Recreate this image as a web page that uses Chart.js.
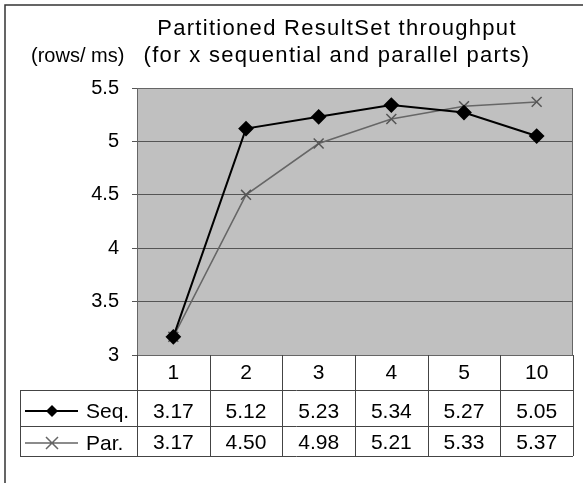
<!DOCTYPE html>
<html lang="en">
<head>
<meta charset="UTF-8">
<title>Partitioned ResultSet throughput</title>
<script src="https://cdn.jsdelivr.net/npm/chart.js"></script>
<style>
    html, body { margin: 0; padding: 0; background: #fff; }
    #wrap { width: 583px; height: 483px; }
</style>
</head>
<body>
<div id="wrap"><canvas id="grafico"></canvas></div>

<script>
    // dados
    var partes = ['1', '2', '3', '4', '5', '10'];
    var seq = [3.17, 5.12, 5.23, 5.34, 5.27, 5.05];
    var par = [3.17, 4.50, 4.98, 5.21, 5.33, 5.37];
    var seqTexto = ['3.17', '5.12', '5.23', '5.34', '5.27', '5.05'];
    var parTexto = ['3.17', '4.50', '4.98', '5.21', '5.33', '5.37'];
    var titulo = ['Partitioned ResultSet throughput', '(for x sequential and parallel parts)'];
    var unidade = '(rows/ ms)';

    var fonte = "'Liberation Sans', Arial, sans-serif";
    var corLinhaTabela = '#444';

    // fundo cinza, moldura, titulo e tabela de dados
    var moldura = {
        id: 'moldura',
        beforeDraw: function (chart) {
            var ctx = chart.ctx, a = chart.chartArea;
            ctx.save();
            ctx.fillStyle = '#c0c0c0';
            ctx.fillRect(a.left, a.top, a.right - a.left, a.bottom - a.top);
            // borda externa
            ctx.strokeStyle = '#333';
            ctx.lineWidth = 1.5;
            ctx.beginPath();
            ctx.moveTo(5, 483);
            ctx.lineTo(5, 5);
            ctx.lineTo(583, 5);
            ctx.stroke();
            // titulo
            ctx.fillStyle = '#000';
            ctx.textAlign = 'center';
            ctx.textBaseline = 'alphabetic';
            ctx.font = '22px ' + fonte;
            ctx.letterSpacing = '1.3px';
            ctx.fillText(titulo[0], 337, 35);
            ctx.fillText(titulo[1], 337, 62);
            ctx.letterSpacing = '0px';
            ctx.textAlign = 'left';
            ctx.font = '20px ' + fonte;
            ctx.fillText(unidade, 31, 62);
            ctx.restore();
        },
        afterDatasetsDraw: function (chart) {
            var ctx = chart.ctx, a = chart.chartArea, x = chart.scales.x;
            ctx.save();
            // borda da area do grafico
            ctx.strokeStyle = '#666';
            ctx.lineWidth = 1;
            ctx.strokeRect(a.left + 0.5, a.top + 0.5, a.right - a.left - 1, a.bottom - a.top);

            var y0 = a.bottom, y1 = 390, y2 = 426, y3 = 456, xl = 20;
            var larg = (a.right - a.left) / partes.length;

            ctx.strokeStyle = corLinhaTabela;
            ctx.lineWidth = 1;
            ctx.beginPath();
            // linhas horizontais
            ctx.moveTo(xl, y1 + 0.5); ctx.lineTo(a.right, y1 + 0.5);
            ctx.moveTo(xl, y2 + 0.5); ctx.lineTo(a.right, y2 + 0.5);
            ctx.moveTo(xl, y3 + 0.5); ctx.lineTo(a.right, y3 + 0.5);
            // linhas verticais
            ctx.moveTo(xl + 0.5, y1); ctx.lineTo(xl + 0.5, y3);
            for (var i = 0; i <= partes.length; i++) {
                var xv = Math.round(a.left + i * larg) + 0.5;
                ctx.moveTo(xv, y0); ctx.lineTo(xv, y3);
            }
            ctx.stroke();

            ctx.fillStyle = '#000';
            ctx.textAlign = 'center';
            ctx.font = '21px ' + fonte;
            for (var j = 0; j < partes.length; j++) {
                var cx = x.getPixelForValue(j);
                ctx.fillText(partes[j], cx, 379);
                ctx.fillText(seqTexto[j], cx, 418);
                ctx.fillText(parTexto[j], cx, 449);
            }

            // legenda dentro da tabela
            ctx.textAlign = 'left';
            ctx.fillText('Seq.', 86, 418);
            ctx.fillText('Par.', 86, 450);

            ctx.strokeStyle = '#000';
            ctx.lineWidth = 2;
            ctx.beginPath();
            ctx.moveTo(25, 411); ctx.lineTo(78, 411);
            ctx.stroke();
            ctx.fillStyle = '#000';
            ctx.beginPath();
            ctx.moveTo(52, 405); ctx.lineTo(58, 411); ctx.lineTo(52, 417); ctx.lineTo(46, 411);
            ctx.closePath();
            ctx.fill();

            ctx.strokeStyle = '#666';
            ctx.lineWidth = 1.5;
            ctx.beginPath();
            ctx.moveTo(25, 443); ctx.lineTo(78, 443);
            ctx.moveTo(46, 437); ctx.lineTo(58, 449);
            ctx.moveTo(58, 437); ctx.lineTo(46, 449);
            ctx.stroke();
            ctx.restore();
        }
    };

    var dados = {
        labels: partes,
        datasets: [{
            label: 'Seq.',
            data: seq,
            borderColor: '#000',
            backgroundColor: '#000',
            borderWidth: 2,
            pointStyle: 'rectRot',
            pointRadius: 6.5,
            pointBackgroundColor: '#000',
            pointBorderColor: '#000',
            tension: 0,
            clip: false
        }, {
            label: 'Par.',
            data: par,
            borderColor: '#666',
            backgroundColor: '#666',
            borderWidth: 1.5,
            pointStyle: 'crossRot',
            pointRadius: 7,
            pointBorderWidth: 1.5,
            pointBorderColor: '#555',
            tension: 0,
            clip: false
        }]
    };

    var config = {
        type: 'line',
        data: dados,
        options: {
            responsive: false,
            animation: false,
            devicePixelRatio: 1,
            layout: { padding: { left: 0, top: 88, right: 10, bottom: 128 } },
            plugins: {
                legend: { display: false },
                title: { display: false },
                tooltip: { enabled: false }
            },
            scales: {
                x: {
                    display: false,
                    offset: true
                },
                y: {
                    min: 3,
                    max: 5.5,
                    afterFit: function (scale) { scale.width = 137; },
                    border: { display: false },
                    grid: { color: '#555', lineWidth: 1, tickLength: 5, drawTicks: true },
                    ticks: {
                        stepSize: 0.5,
                        padding: 13,
                        color: '#000',
                        font: { family: fonte, size: 20 },
                        callback: function (valor) { return String(valor); }
                    }
                }
            }
        },
        plugins: [moldura]
    };

    var cv = document.getElementById('grafico');
    cv.width = 583;
    cv.height = 483;
    var myChart = new Chart(cv, config);
</script>
</body>
</html>
